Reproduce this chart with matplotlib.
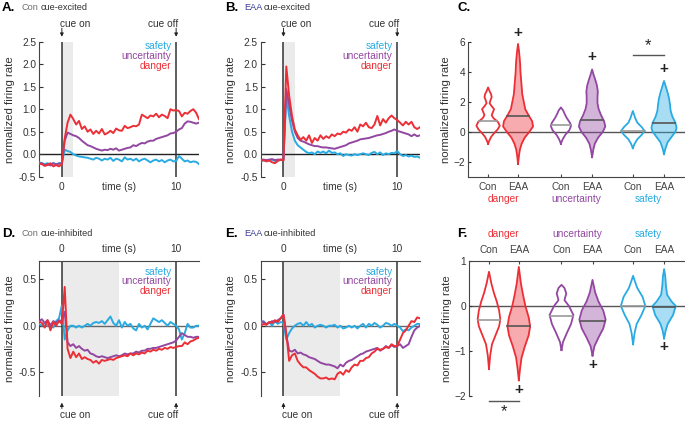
import numpy as np
import matplotlib
matplotlib.use('Agg')
import matplotlib.pyplot as plt

plt.rcParams['font.family'] = ['Liberation Sans', 'DejaVu Sans']
plt.rcParams['font.size'] = 7.3

RED = '#ec2f36'
PURPLE = '#9247a1'
BLUE = '#29abe2'
EAA_C = '#3d3d99'
CON_C = '#6d6e71'
TXT = '#333333'

# time bins (s), 0.25 s steps from -2 to 12
time = np.arange(-2, 12.01, 0.25)

# ---- A: Con cue-excited ----
a_danger = [-0.20, -0.22, -0.26, -0.24, -0.20, -0.27, -0.24, -0.27,
            -0.22, 0.35, 0.70, 0.88, 0.78, 0.66, 0.74, 0.56,
            0.62, 0.50, 0.55, 0.45, 0.52, 0.46, 0.56, 0.44,
            0.47, 0.52, 0.47, 0.57, 0.53, 0.52, 0.63, 0.58,
            0.60, 0.63, 0.62, 0.66, 0.88, 0.84, 0.80, 0.86,
            0.84, 0.90, 0.82, 0.88, 0.85, 0.80, 1.00, 0.97,
            0.98, 0.96, 0.84, 0.92, 0.90, 0.96, 1.00, 0.92,
            0.78]
a_uncert = [-0.22, -0.20, -0.25, -0.22, -0.25, -0.20, -0.23, -0.21,
            -0.20, 0.30, 0.48, 0.45, 0.42, 0.40, 0.36, 0.30,
            0.25, 0.20, 0.18, 0.15, 0.12, 0.10, 0.08, 0.10,
            0.09, 0.12, 0.10, 0.13, 0.08, 0.10, 0.12, 0.14,
            0.15, 0.20, 0.18, 0.22, 0.25, 0.24, 0.28, 0.30,
            0.30, 0.34, 0.36, 0.38, 0.40, 0.42, 0.46, 0.47,
            0.50, 0.55, 0.58, 0.68, 0.73, 0.72, 0.70, 0.68,
            0.70]
a_safety = [-0.18, -0.20, -0.22, -0.20, -0.24, -0.20, -0.22, -0.20,
            -0.20, 0.10, 0.07, 0.05, 0.00, -0.03, -0.05, -0.06,
            -0.07, -0.08, -0.10, -0.12, -0.08, -0.10, -0.14, -0.10,
            -0.12, -0.08, -0.15, -0.10, -0.12, -0.16, -0.07, -0.12,
            -0.10, -0.14, -0.10, -0.16, -0.12, -0.10, -0.14, -0.18,
            -0.14, -0.12, -0.16, -0.13, -0.18, -0.14, -0.12, -0.16,
            -0.15, -0.04, -0.10, -0.16, -0.14, -0.18, -0.16, -0.17,
            -0.22]

# ---- B: EAA cue-excited ----
b_danger = [-0.15, -0.13, -0.16, -0.14, -0.18, -0.20, -0.15, -0.12,
            -0.14, 1.95, 1.30, 0.85, 0.55, 0.42, 0.32, 0.38,
            0.30, 0.42, 0.25, 0.36, 0.30, 0.42, 0.34, 0.40,
            0.36, 0.44, 0.40, 0.46, 0.44, 0.50, 0.48, 0.55,
            0.52, 0.60, 0.50, 0.66, 0.62, 0.70, 0.60, 0.58,
            0.66, 0.85, 0.64, 0.78, 0.70, 0.80, 0.86, 0.80,
            0.76, 0.70, 0.64, 0.72, 0.66, 0.72, 0.60, 0.56,
            0.60]
b_uncert = [-0.12, -0.12, -0.13, -0.12, -0.11, -0.13, -0.12, -0.12,
            -0.12, 1.45, 1.10, 0.75, 0.50, 0.36, 0.30, 0.28,
            0.25, 0.22, 0.20, 0.18, 0.18, 0.16, 0.15, 0.15,
            0.14, 0.13, 0.12, 0.14, 0.16, 0.18, 0.20, 0.24,
            0.26, 0.28, 0.30, 0.33, 0.34, 0.35, 0.36, 0.38,
            0.40, 0.42, 0.43, 0.45, 0.47, 0.50, 0.52, 0.55,
            0.52, 0.50, 0.48, 0.46, 0.44, 0.40, 0.44, 0.40,
            0.42]
b_safety = [-0.16, -0.14, -0.15, -0.13, -0.12, -0.15, -0.14, -0.13,
            -0.13, 1.30, 0.85, 0.50, 0.30, 0.20, 0.15, 0.10,
            0.05, 0.02, 0.04, 0.00, 0.06, 0.03, 0.06, 0.02,
            0.08, 0.03, 0.04, 0.00, 0.02, -0.04, 0.00, -0.02,
            -0.03, 0.00, -0.02, 0.00, 0.02, 0.00, -0.02, 0.03,
            0.05, 0.00, 0.04, -0.02, 0.02, 0.00, 0.03, 0.02,
            0.07, 0.00, -0.04, -0.02, -0.05, -0.03, -0.06, -0.05,
            -0.08]

# ---- D: Con cue-inhibited ----
d_danger = [0.05, 0.03, -0.02, 0.06, -0.05, 0.04, 0.00, 0.05,
            0.02, 0.42, -0.25, -0.35, -0.28, -0.34, -0.30, -0.36,
            -0.34, -0.36, -0.37, -0.40, -0.38, -0.41, -0.37, -0.38,
            -0.37, -0.36, -0.37, -0.35, -0.34, -0.33, -0.32, -0.33,
            -0.30, -0.32, -0.30, -0.31, -0.29, -0.30, -0.27, -0.28,
            -0.26, -0.27, -0.25, -0.26, -0.24, -0.25, -0.23, -0.24,
            -0.23, -0.22, -0.22, -0.18, -0.20, -0.17, -0.16, -0.14,
            -0.13]
d_uncert = [0.05, 0.07, 0.03, 0.06, 0.00, 0.05, 0.03, 0.06,
            0.05, 0.15, -0.18, -0.22, -0.20, -0.24, -0.22, -0.25,
            -0.27, -0.26, -0.30, -0.31, -0.33, -0.34, -0.33, -0.34,
            -0.35, -0.34, -0.33, -0.32, -0.33, -0.32, -0.30, -0.31,
            -0.30, -0.30, -0.28, -0.29, -0.27, -0.27, -0.25, -0.25,
            -0.24, -0.24, -0.23, -0.22, -0.21, -0.20, -0.19, -0.18,
            -0.16, -0.12, -0.08, -0.10, -0.12, -0.12, -0.13, -0.12,
            -0.12]
d_safety = [0.02, 0.00, 0.03, 0.00, 0.02, -0.02, 0.05, 0.08,
            0.22, -0.15, -0.05, 0.00, 0.00, -0.02, 0.00, -0.02,
            0.00, 0.02, 0.00, 0.03, 0.04, 0.03, 0.05, 0.02,
            0.06, 0.10, 0.03, 0.00, 0.06, -0.02, 0.04, 0.00,
            0.02, -0.03, -0.05, 0.02, -0.02, 0.00, -0.04, 0.02,
            0.08, 0.06, 0.04, 0.06, 0.03, 0.00, 0.04, 0.02,
            0.00, -0.04, -0.15, -0.08, 0.02, -0.02, -0.02, 0.00,
            0.00]

# ---- E: EAA cue-inhibited ----
e_danger = [0.00, 0.02, 0.01, 0.04, 0.03, 0.06, 0.04, 0.08,
            0.12, -0.08, -0.38, -0.32, -0.30, -0.38, -0.42, -0.45,
            -0.45, -0.48, -0.50, -0.52, -0.55, -0.57, -0.57, -0.56,
            -0.58, -0.57, -0.58, -0.52, -0.50, -0.53, -0.48, -0.50,
            -0.45, -0.42, -0.43, -0.38, -0.38, -0.35, -0.34, -0.30,
            -0.28, -0.25, -0.26, -0.25, -0.23, -0.24, -0.20, -0.22,
            -0.22, -0.15, -0.08, -0.05, 0.00, 0.05, 0.04, 0.09,
            0.08]
e_uncert = [0.05, 0.04, 0.02, 0.03, 0.05, 0.04, 0.06, 0.08,
            0.12, -0.10, -0.27, -0.28, -0.26, -0.30, -0.29, -0.31,
            -0.32, -0.34, -0.35, -0.36, -0.38, -0.40, -0.41, -0.42,
            -0.42, -0.43, -0.44, -0.46, -0.42, -0.44, -0.40, -0.38,
            -0.37, -0.35, -0.33, -0.31, -0.30, -0.28, -0.27, -0.26,
            -0.25, -0.24, -0.27, -0.25, -0.22, -0.24, -0.21, -0.23,
            -0.22, -0.20, -0.24, -0.22, -0.20, -0.12, -0.05, -0.02,
            0.00]
e_safety = [0.03, 0.05, 0.01, 0.04, 0.00, 0.05, 0.02, 0.04,
            0.03, -0.15, -0.08, -0.03, 0.00, 0.02, 0.03, 0.00,
            0.04, 0.00, 0.02, -0.02, 0.00, 0.01, 0.00, -0.02,
            0.00, 0.00, 0.01, -0.02, 0.00, -0.03, -0.02, 0.00,
            -0.02, 0.00, -0.03, 0.00, 0.02, -0.02, 0.02, 0.00,
            0.03, 0.01, -0.02, 0.00, 0.03, 0.02, 0.00, 0.02,
            0.00, -0.02, -0.06, -0.04, -0.05, -0.02, 0.00, 0.02,
            0.02]

# ---- violins (profile: y levels and half widths) ----
groups = ['danger', 'uncertainty', 'safety']
group_colors = [RED, PURPLE, BLUE]
vpos = [0, 1, 2.43, 3.47, 4.83, 5.87]

c_y = [
    [-0.8, -0.6, -0.35, -0.1, 0.15, 0.4, 0.65, 0.9, 1.1, 1.3, 1.5, 1.7, 1.9, 2.1, 2.3, 2.5, 2.7, 2.95],
    [-2.15, -1.6, -1.2, -0.8, -0.4, 0.0, 0.35, 0.7, 1.1, 1.5, 2.0, 2.5, 3.0, 3.5, 4.0, 4.5, 5.0, 5.4, 5.85],
    [-0.8, -0.5, -0.2, 0.1, 0.4, 0.6, 0.9, 1.2, 1.4, 1.62],
    [-1.7, -1.2, -0.8, -0.4, 0.0, 0.35, 0.7, 1.1, 1.5, 1.9, 2.3, 2.7, 3.1, 3.5, 3.8, 4.15],
    [-1.1, -0.8, -0.5, -0.2, 0.05, 0.3, 0.6, 0.9, 1.15, 1.38],
    [-1.5, -1.1, -0.7, -0.35, 0.0, 0.25, 0.6, 1.0, 1.4, 1.8, 2.2, 2.6, 3.0, 3.38],
]
c_w = [
    [0, 0.04, 0.1, 0.2, 0.32, 0.39, 0.33, 0.18, 0.12, 0.16, 0.2, 0.12, 0.05, 0.08, 0.12, 0.1, 0.05, 0],
    [0, 0.03, 0.06, 0.12, 0.22, 0.38, 0.5, 0.47, 0.35, 0.24, 0.19, 0.14, 0.12, 0.1, 0.08, 0.07, 0.05, 0.03, 0],
    [0, 0.06, 0.15, 0.28, 0.34, 0.3, 0.2, 0.12, 0.08, 0],
    [0, 0.04, 0.09, 0.2, 0.36, 0.44, 0.4, 0.3, 0.22, 0.18, 0.18, 0.19, 0.16, 0.1, 0.05, 0],
    [0, 0.06, 0.15, 0.3, 0.39, 0.3, 0.15, 0.08, 0.04, 0],
    [0, 0.05, 0.12, 0.25, 0.38, 0.42, 0.38, 0.28, 0.22, 0.2, 0.17, 0.12, 0.06, 0],
]
c_med = [0.72, 1.05, 0.45, 0.8, 0.05, 0.6]
c_plus = [6.6, 4.95, 4.15]

f_y = [
    [-1.4, -1.1, -0.85, -0.65, -0.45, -0.3, -0.1, 0.1, 0.3, 0.5, 0.76],
    [-1.65, -1.4, -1.15, -0.9, -0.65, -0.45, -0.25, 0.0, 0.25, 0.5, 0.87],
    [-0.98, -0.8, -0.6, -0.4, -0.2, 0.0, 0.13, 0.28, 0.4, 0.47],
    [-1.1, -0.9, -0.7, -0.5, -0.3, -0.1, 0.1, 0.3, 0.58],
    [-0.85, -0.6, -0.4, -0.2, 0.0, 0.2, 0.4, 0.55, 0.67],
    [-0.72, -0.55, -0.4, -0.2, 0.0, 0.1, 0.25, 0.45, 0.65, 0.82],
]
f_w = [
    [0, 0.04, 0.1, 0.22, 0.34, 0.38, 0.34, 0.26, 0.16, 0.08, 0],
    [0, 0.04, 0.09, 0.2, 0.33, 0.38, 0.33, 0.22, 0.14, 0.07, 0],
    [0, 0.05, 0.18, 0.32, 0.4, 0.25, 0.1, 0.16, 0.1, 0],
    [0, 0.06, 0.2, 0.36, 0.44, 0.36, 0.2, 0.09, 0],
    [0, 0.05, 0.12, 0.28, 0.41, 0.32, 0.14, 0.06, 0],
    [0, 0.05, 0.12, 0.3, 0.39, 0.25, 0.1, 0.06, 0.04, 0],
]
f_med = [-0.3, -0.45, -0.23, -0.33, 0.01, -0.02]
f_plus = [-1.87, -1.3, -0.92]

W, H = 685, 421
fig = plt.figure(figsize=(W / 100, H / 100), dpi=100)


def box(left, top, right, bottom):
    return [left / W, 1 - bottom / H, (right - left) / W, (bottom - top) / H]


def title(x, y, letter, group, kind):
    fig.text(x / W, 1 - y / H, letter, fontsize=9.5, fontweight='bold', va='center')
    if group:
        fig.text((x + 19) / W, 1 - y / H, group, color=CON_C if group == 'Con' else EAA_C,
                 fontsize=6.6, va='center')
        fig.text((x + 39) / W, 1 - y / H, kind, color=TXT, fontsize=6.6, va='center')


def line_panel(rect, dang, unc, saf, inhibited):
    ax = fig.add_axes(rect)
    ax.axvspan(0, 5 if inhibited else 1, color='#ebebeb', lw=0, zorder=0)
    ax.axhline(0, color='#666666' if inhibited else '#222222', lw=1, zorder=1)
    for xv in (0, 10):
        ax.axvline(xv, color='#333333', lw=1.1, zorder=1)
    ax.plot(time, saf, color=BLUE, lw=1.4, zorder=3)
    ax.plot(time, unc, color=PURPLE, lw=1.4, zorder=3)
    ax.plot(time, dang, color=RED, lw=1.4, zorder=3)
    ax.set_xlim(-2, 12)
    for s in ('right', 'bottom', 'top'):
        ax.spines[s].set_visible(False)
    ax.spines['left'].set_color('#444444')
    ax.tick_params(axis='y', direction='in', length=3, colors='#333333', pad=2)
    ax.set_xticks([0, 5, 10])
    ax.set_xticklabels(['0', 'time (s)', '10'])
    ax.tick_params(axis='x', length=0, colors='#333333')
    ax.set_ylabel('normalized firing rate', color=TXT, fontsize=8.2, labelpad=3)
    if inhibited:
        ax.set_ylim(-0.76, 0.7)
        ax.set_yticks([-0.5, 0, 0.5])
        ax.set_yticklabels(['-0.5', '0.0', '0.5'])
        ax.spines['top'].set_visible(True)
        ax.spines['top'].set_color('#444444')
        ax.xaxis.tick_top()
        ax.tick_params(axis='x', pad=5)
        ly = [0.585, 0.48, 0.375]
        for xv, lab, ha, xt in ((0, 'cue on', 'left', -0.15), (10, 'cue off', 'right', 10.2)):
            ax.annotate('', xy=(xv, -0.832), xytext=(xv, -0.895),
                        arrowprops=dict(arrowstyle='-|>', color='#222222', lw=0.7,
                                        mutation_scale=5, shrinkA=0, shrinkB=0),
                        annotation_clip=False)
            ax.text(xt, -0.965, lab, ha=ha, va='center', color=TXT, clip_on=False)
    else:
        ax.set_ylim(-0.5, 2.5)
        ax.set_yticks([-0.5, 0, 0.5, 1, 1.5, 2, 2.5])
        ax.set_yticklabels(['-0.5', '0.0', '0.5', '1.0', '1.5', '2.0', '2.5'])
        ax.tick_params(axis='x', pad=4)
        ly = [2.4, 2.18, 1.96]
        for xv, lab, ha, xt in ((0, 'cue on', 'left', -0.2), (10, 'cue off', 'right', 10.2)):
            ax.annotate('', xy=(xv, 2.61), xytext=(xv, 2.80),
                        arrowprops=dict(arrowstyle='-|>', color='#222222', lw=0.7,
                                        mutation_scale=5, shrinkA=0, shrinkB=0),
                        annotation_clip=False)
            ax.text(xt, 2.89, lab, ha=ha, va='center', color=TXT, clip_on=False)
    ax.xaxis.get_major_ticks()[1].tick1line.set_visible(False)
    for yv, lab, col in zip(ly, ['safety', 'uncertainty', 'danger'], [BLUE, PURPLE, RED]):
        ax.text(9.6, yv, lab, color=col, ha='right', va='center')
    return ax


def violin_panel(rect, ys, ws, meds, plus, top_axis):
    ax = fig.add_axes(rect)
    ax.axhline(0, color='#555555', lw=1, zorder=1)
    for i, (x, y, w) in enumerate(zip(vpos, ys, ws)):
        y = np.array(y)
        w = np.array(w)
        col = group_colors[i // 2]
        eaa = i % 2 == 1
        if eaa:
            ax.fill_betweenx(y, x - w, x + w, color=col, alpha=0.4, lw=0, zorder=2)
        ax.plot(np.r_[x - w, (x + w)[::-1]], np.r_[y, y[::-1]], color=col, lw=1.3, zorder=3)
        hw = np.interp(meds[i], y, w)
        ax.plot([x - hw, x + hw], [meds[i], meds[i]], color='#555555' if eaa else '#999999',
                lw=1.2, zorder=4)
    for j, yv in enumerate(plus):
        ax.text(vpos[2 * j + 1], yv, '+', ha='center', va='center', fontsize=11,
                fontweight='bold', color='#222222')
    ax.set_xlim(-0.67, 6.57)
    ax.set_xticks(vpos)
    ax.set_xticklabels(['Con', 'EAA'] * 3)
    for k, t in enumerate(ax.get_xticklabels()):
        t.set_color(CON_C if k % 2 == 0 else EAA_C)
    ax.spines['right'].set_visible(False)
    for s in ('left', 'top', 'bottom'):
        ax.spines[s].set_color('#444444')
    ax.tick_params(direction='in', length=2.5, colors='#444444')
    ax.tick_params(axis='y', colors='#333333', pad=2)
    ax.set_ylabel('normalized firing rate', color=TXT, fontsize=8.2, labelpad=2)
    if top_axis:
        ax.spines['bottom'].set_visible(False)
        ax.xaxis.tick_top()
        ax.tick_params(axis='x', pad=4)
        ax.set_ylim(-2, 1)
        ax.set_yticks([-2, -1, 0, 1])
        gy = 1.2
        ax.plot([vpos[0], vpos[1]], [-2.1, -2.1], color='#555555', lw=1, clip_on=False)
        ax.text(0.5 * (vpos[0] + vpos[1]), -2.52, '*', ha='center', va='bottom',
                fontsize=12, color='#222222', clip_on=False)
    else:
        ax.spines['top'].set_visible(False)
        ax.tick_params(axis='x', pad=4)
        ax.set_ylim(-3, 6)
        ax.set_yticks([-2, 0, 2, 4, 6])
        gy = -0.165
        ax.plot([vpos[4], vpos[5]], [5.1, 5.1], color='#555555', lw=1)
        ax.text(0.5 * (vpos[4] + vpos[5]), 5.75, '*', ha='center', va='center',
                fontsize=12, color='#222222')
    for j, g in enumerate(groups):
        ax.text(0.5 * (vpos[2 * j] + vpos[2 * j + 1]), gy, g, color=group_colors[j],
                ha='center', va='center', transform=ax.get_xaxis_transform(), clip_on=False)
    return ax


line_panel(box(39, 41.7, 199, 176.7), a_danger, a_uncert, a_safety, False)
line_panel(box(260.7, 41.7, 420, 176.7), b_danger, b_uncert, b_safety, False)
line_panel(box(39, 261, 199, 396), d_danger, d_uncert, d_safety, True)
line_panel(box(260.7, 261, 420, 396), e_danger, e_uncert, e_safety, True)
violin_panel(box(468, 41.7, 685, 176.7), c_y, c_w, c_med, c_plus, False)
violin_panel(box(469, 261, 685, 396), f_y, f_w, f_med, f_plus, True)

title(2, 8, 'A.', 'Con', 'cue-excited')
title(225, 8, 'B.', 'EAA', 'cue-excited')
title(457, 8, 'C.', None, None)
title(2, 234, 'D.', 'Con', 'cue-inhibited')
title(225, 234, 'E.', 'EAA', 'cue-inhibited')
title(457, 234, 'F.', None, None)

fig.savefig('out.png', dpi=100, facecolor='white')
